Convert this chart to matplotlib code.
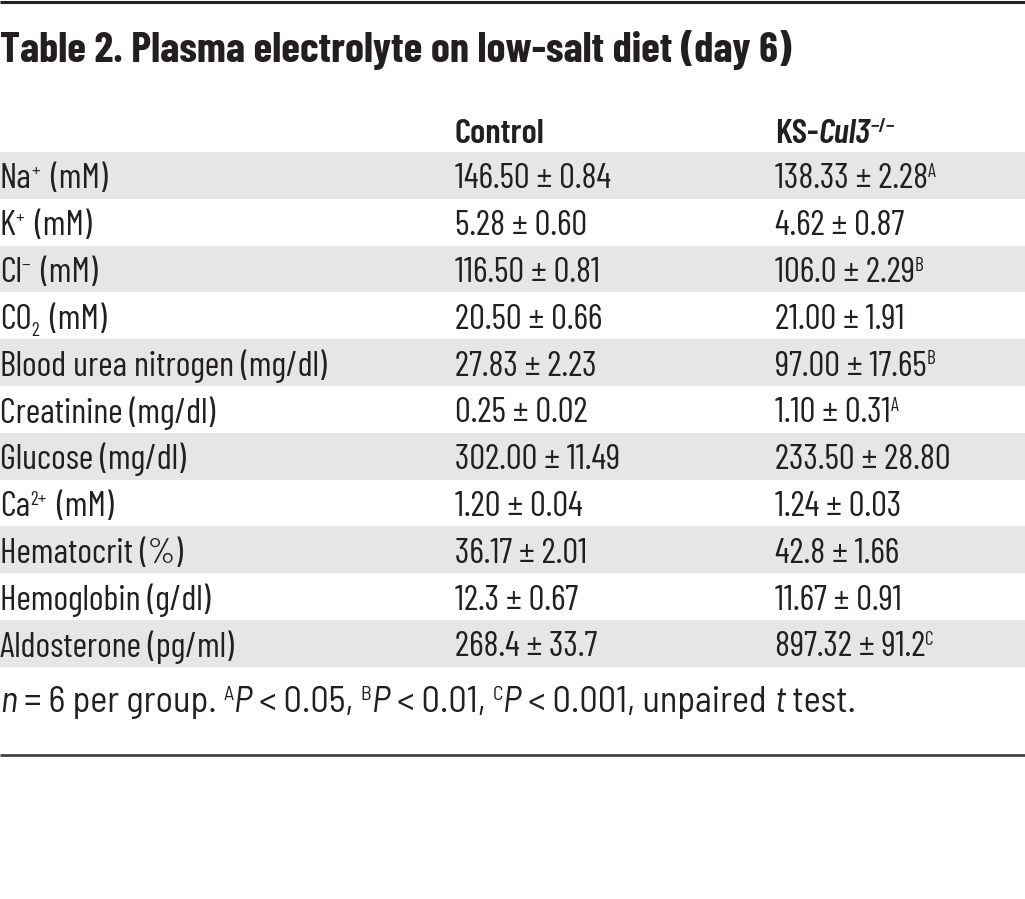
import os
import matplotlib
matplotlib.use("Agg")
import matplotlib.pyplot as plt
from matplotlib import font_manager as fm
from matplotlib.font_manager import FontProperties

# ---------------- data ----------------
title = "Table 2. Plasma electrolyte on low-salt diet (day 6)"
col_headers = ["Control", "KS-Cul3−/−"]
row_labels = [
    [("Na", "n"), ("+", "sup"), (" (mM)", "n")],
    [("K", "n"), ("+", "sup"), (" (mM)", "n")],
    [("Cl", "n"), ("−", "sup"), (" (mM)", "n")],
    [("CO", "n"), ("2", "sub"), (" (mM)", "n")],
    [("Blood urea nitrogen (mg/dl)", "n")],
    [("Creatinine (mg/dl)", "n")],
    [("Glucose (mg/dl)", "n")],
    [("Ca", "n"), ("2+", "sup"), (" (mM)", "n")],
    [("Hematocrit (%)", "n")],
    [("Hemoglobin (g/dl)", "n")],
    [("Aldosterone (pg/ml)", "n")],
]
control_vals = ["146.50 ± 0.84", "5.28 ± 0.60", "116.50 ± 0.81", "20.50 ± 0.66",
                "27.83 ± 2.23", "0.25 ± 0.02", "302.00 ± 11.49", "1.20 ± 0.04",
                "36.17 ± 2.01", "12.3 ± 0.67", "268.4 ± 33.7"]
ks_vals = ["138.33 ± 2.28", "4.62 ± 0.87", "106.0 ± 2.29", "21.00 ± 1.91",
           "97.00 ± 17.65", "1.10 ± 0.31", "233.50 ± 28.80", "1.24 ± 0.03",
           "42.8 ± 1.66", "11.67 ± 0.91", "897.32 ± 91.2"]
ks_sig = ["A", "", "B", "", "B", "A", "", "", "", "", "C"]
footnote = [("n", "i"), (" = 6 per group. ", "n"), ("A", "sup"), ("P", "i"), (" < 0.05, ", "n"),
            ("B", "sup"), ("P", "i"), (" < 0.01, ", "n"), ("C", "sup"), ("P", "i"),
            (" < 0.001, unpaired ", "n"), ("t", "i"), (" test.", "n")]

# ---------------- fonts ----------------
paths = {os.path.basename(f.fname): f.fname for f in fm.fontManager.ttflist}


def fp(name, fallback_weight="normal", fallback_style="normal"):
    if name in paths:
        return FontProperties(fname=paths[name])
    return FontProperties(family="DejaVu Sans", weight=fallback_weight, style=fallback_style)


F_REG = fp("BarlowCondensed-Regular.ttf")
F_IT = fp("BarlowCondensed-Italic.ttf", fallback_style="italic")
F_BOLD = fp("BarlowCondensed-Bold.ttf", fallback_weight="bold")
F_SB = fp("BarlowCondensed-SemiBold.ttf", fallback_weight="bold")
F_SBI = fp("BarlowCondensed-SemiBoldItalic.ttf", fallback_weight="bold", fallback_style="italic")
F_FN = fp("BarlowSemiCondensed-Regular.ttf")
F_FNI = fp("BarlowSemiCondensed-Italic.ttf", fallback_style="italic")

# ---------------- style ----------------
W, H = 1025, 899
TXT = "#231f20"
SHADE = "#e6e6e6"

fig = plt.figure(figsize=(W / 100, H / 100), dpi=100)
ax = fig.add_axes([0, 0, 1, 1])
ax.set_xlim(0, W)
ax.set_ylim(H, 0)
ax.axis("off")
renderer = fig.canvas.get_renderer()

FONTS = {"n": F_REG, "i": F_IT, "sup": F_REG, "sub": F_REG}
FN_FONTS = {"n": F_FN, "i": F_FNI, "sup": F_FN}


def draw_segments(x, y, segs, size, fonts=FONTS, draw=True, sup_gap=0.0):
    x0 = x
    for k, (text, kind) in enumerate(segs):
        fs = size
        dy = 0
        if kind == "sup":
            fs = size * 0.55
            dy = -size * 0.45
        elif kind == "sub":
            fs = size * 0.55
            dy = size * 0.28
        t = ax.text(x, y + dy, text, fontproperties=fonts[kind], fontsize=fs, color=TXT,
                    va="baseline", ha="left")
        x += t.get_window_extent(renderer).width
        if kind in ("sup", "sub") and k < len(segs) - 1:
            x += sup_gap * size
        if not draw:
            t.remove()
    return x - x0


def fit_size(segs, target, fonts=FONTS):
    w = draw_segments(0, 0, segs, 20, fonts, draw=False)
    return 20 * target / w


# lines
ax.plot([0, W], [1.5, 1.5], color=TXT, lw=2.2, solid_capstyle="butt")
ax.plot([0, W], [754.5, 754.5], color="#444444", lw=2.0, solid_capstyle="butt")

# title
TFONTS = {"n": F_BOLD}
ts = fit_size([(title, "n")], 790, TFONTS)
draw_segments(0, 62, [(title, "n")], ts, TFONTS)

# row font size: compromise between label width and number width in the reference
rs = 0.5 * (fit_size(row_labels[4], 318) + fit_size([(control_vals[6], "n")], 170))

# header
HFONTS = {"n": F_SB, "bi": F_SBI, "sup": F_SB}
COL_X = [0, 455, 775]
draw_segments(COL_X[1], 143, [(col_headers[0], "n")], rs, HFONTS)
draw_segments(COL_X[2], 143, [("KS-", "n"), ("Cul3", "bi"), ("−/−", "sup")], rs, HFONTS)

# rows
top = 152
rh = 46.8
for i in range(len(row_labels)):
    y0 = top + i * rh
    if i % 2 == 0:
        ax.add_patch(plt.Rectangle((0, y0), W, rh, color=SHADE, lw=0, zorder=0))
    yb = y0 + 36.5
    draw_segments(COL_X[0], yb, row_labels[i], rs, sup_gap=0.15)
    draw_segments(COL_X[1], yb, [(control_vals[i], "n")], rs)
    segs = [(ks_vals[i], "n")]
    if ks_sig[i]:
        segs.append((ks_sig[i], "sup"))
    draw_segments(COL_X[2], yb, segs, rs)

# footnote
fs = fit_size(footnote, 857, FN_FONTS)
draw_segments(0, 712, footnote, fs, FN_FONTS)

fig.savefig("out.png", dpi=100)
